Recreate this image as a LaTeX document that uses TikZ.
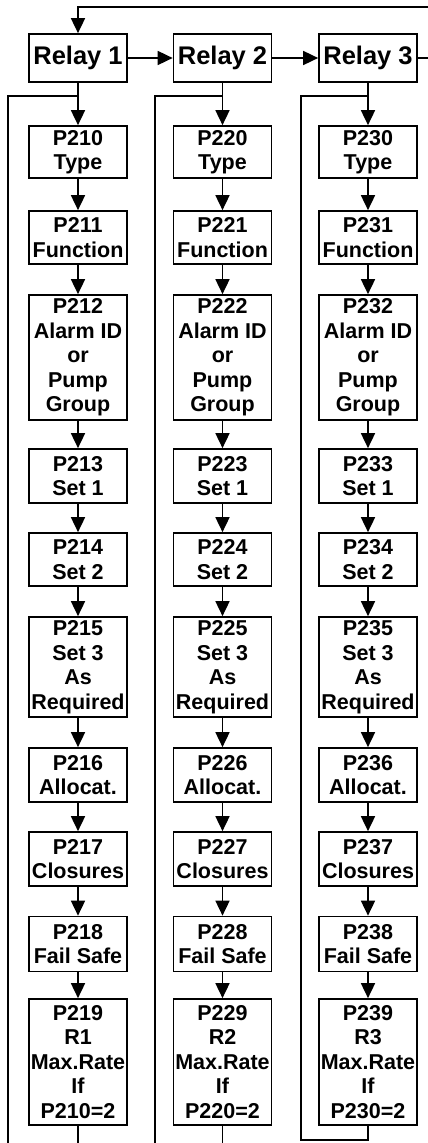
\documentclass[tikz,border=0pt]{standalone}
\usepackage{fontspec}
\setmainfont{Liberation Sans}
\usetikzlibrary{arrows.meta}
\begin{document}
\begin{tikzpicture}[x=1pt,y=-1pt,
  line width=1.7pt,
  box/.style={draw, line width=1.7pt, minimum width=98pt, inner sep=0pt, align=center,
    font=\fontsize{21.5}{24.5}\selectfont\bfseries},
  relay/.style={box, font=\fontsize{25.5}{28}\selectfont\bfseries, minimum height=48pt},
  arr/.style={-{Triangle[length=15pt,width=14pt]}},
]
\fill[white] (0,0) rectangle (428,1143);
\useasboundingbox (0,0) rectangle (428,1143);

\foreach \c/\x in {1/78,2/222.5,3/368}{
  \node[relay] (R\c) at (\x,58) {Relay \c};
  \node[box,minimum height=52pt]  (P2\c0) at (\x,152)   {P2\c0\\Type};
  \node[box,minimum height=53pt]  (P2\c1) at (\x,237.5) {P2\c1\\Function};
  \node[box,minimum height=125pt] (P2\c2) at (\x,357.5) {P2\c2\\Alarm ID\\or\\Pump\\Group};
  \node[box,minimum height=54pt]  (P2\c3) at (\x,476)   {P2\c3\\Set 1};
  \node[box,minimum height=53pt]  (P2\c4) at (\x,559.5) {P2\c4\\Set 2};
  \node[box,minimum height=100pt] (P2\c5) at (\x,667)   {P2\c5\\Set 3\\As\\Required};
  \node[box,minimum height=54pt]  (P2\c6) at (\x,775)   {P2\c6\\Allocat.};
  \node[box,minimum height=54pt]  (P2\c7) at (\x,859)   {P2\c7\\Closures};
  \node[box,minimum height=55pt]  (P2\c8) at (\x,944)   {P2\c8\\Fail Safe};
  \node[box,minimum height=126pt] (P2\c9) at (\x,1062)  {P2\c9\\R\c\\Max.Rate\\If\\P2\c0=2};
  \foreach \a/\b in {0/1,1/2,2/3,3/4,4/5,5/6,6/7,7/8,8/9}
    \draw[arr] (P2\c\a) -- (P2\c\b);
  \coordinate (J\c) at (\x,96);
  \draw[arr] (R\c) -- (P2\c0);
}

% relay chain
\draw[arr] (R1) -- (R2);
\draw[arr] (R2) -- (R3);
\coordinate (E3) at (440,58);
\draw (R3) -- (E3);
\coordinate (T0) at (78,7);
\coordinate (T1) at (440,7);
\draw[arr] (T1) -- (T0) -- (R1);

% return loops
\coordinate (B1) at (78,1150);
\coordinate (L1) at (8,1150);
\draw (P219) -- (B1);
\draw (L1) |- (J1);

\coordinate (B2) at (222.5,1150);
\coordinate (L2) at (155,1150);
\draw (P229) -- (B2);
\draw (L2) |- (J2);

\coordinate (B3) at (368,1140);
\coordinate (L3) at (301,1140);
\draw (P239) -- (B3) -- (L3) |- (J3);
\end{tikzpicture}
\end{document}
